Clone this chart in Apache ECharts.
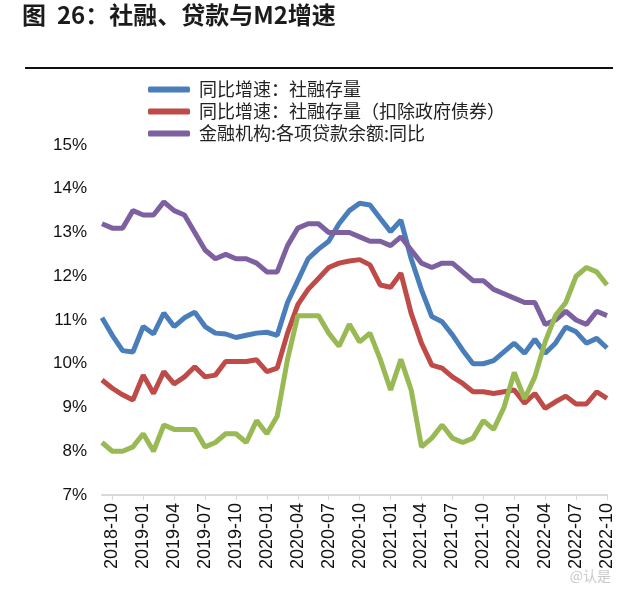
<!DOCTYPE html>
<html>
<head>
<meta charset="utf-8">
<script src="https://cdn.jsdelivr.net/npm/echarts@6/dist/echarts.min.js"></script>
<style>
html,body{margin:0;padding:0;background:#fff;}
#c{width:633px;height:600px;}
</style>
</head>
<body>
<div id="c"></div>
<script>
const categories = [
 '2018-09','2018-10','2018-11','2018-12',
 '2019-01','2019-02','2019-03','2019-04','2019-05','2019-06','2019-07','2019-08','2019-09','2019-10','2019-11','2019-12',
 '2020-01','2020-02','2020-03','2020-04','2020-05','2020-06','2020-07','2020-08','2020-09','2020-10','2020-11','2020-12',
 '2021-01','2021-02','2021-03','2021-04','2021-05','2021-06','2021-07','2021-08','2021-09','2021-10','2021-11','2021-12',
 '2022-01','2022-02','2022-03','2022-04','2022-05','2022-06','2022-07','2022-08','2022-09','2022-10'
];
const seriesNames = ['同比增速：社融存量','同比增速：社融存量（扣除政府债券）','金融机构:各项贷款余额:同比','M2:同比'];
const tsfStock = [11.05,10.65,10.3,10.27,10.85,10.68,11.16,10.85,11.05,11.18,
 10.85,10.7,10.68,10.6,10.65,10.7,10.72,10.65,11.4,11.9,
 12.4,12.62,12.8,13.2,13.5,13.67,13.63,13.32,13.02,13.28,
 12.4,11.69,11.08,10.96,10.66,10.31,10.0,10.0,10.07,10.27,
 10.47,10.24,10.56,10.24,10.47,10.84,10.73,10.47,10.58,10.36];
const tsfExGov = [9.63,9.44,9.29,9.17,9.74,9.32,9.82,9.54,9.7,9.93,
 9.7,9.74,10.05,10.05,10.05,10.09,9.82,9.9,10.7,11.35,
 11.7,11.95,12.2,12.3,12.35,12.38,12.26,11.8,11.75,12.07,
 11.15,10.47,9.97,9.9,9.7,9.55,9.36,9.36,9.32,9.36,
 9.4,9.1,9.32,8.98,9.13,9.26,9.08,9.08,9.36,9.21];
const loans = [13.2,13.1,13.1,13.5,13.4,13.4,13.7,13.5,13.4,13.0,
 12.6,12.4,12.5,12.4,12.4,12.3,12.1,12.1,12.7,13.1,
 13.2,13.2,13.0,13.0,13.0,12.9,12.8,12.8,12.7,12.9,
 12.6,12.3,12.2,12.3,12.3,12.1,11.9,11.9,11.7,11.6,
 11.5,11.4,11.4,10.9,11.0,11.2,11.0,10.9,11.2,11.1];
const m2 = [8.2,8.0,8.0,8.1,8.4,8.0,8.6,8.5,8.5,8.5,
 8.1,8.2,8.4,8.4,8.2,8.7,8.4,8.8,10.1,11.1,
 11.1,11.1,10.7,10.4,10.9,10.5,10.7,10.1,9.4,10.1,
 9.4,8.1,8.3,8.6,8.3,8.2,8.3,8.7,8.5,9.0,
 9.8,9.2,9.7,10.5,11.1,11.4,12.0,12.2,12.1,11.8];
const yTicks = [7,8,9,10,11,12,13,14,15];
const colors = ['#4a7ebb','#be4b48','#7d60a0','#98b954'];

const FONT = "'Liberation Sans','Noto Sans CJK SC',sans-serif";
const chart = echarts.init(document.getElementById('c'), null, {renderer:'canvas'});
const showLab = (idx) => (idx - 1) % 3 === 0;
const dataArr = [tsfStock, tsfExGov, loans, m2];
chart.setOption({
  animation:false,
  backgroundColor:'#fff',
  textStyle:{fontFamily:FONT},
  graphic:[
    {type:'text', left:22, top:3, style:{text:'图  26：社融、贷款与M2增速', font:"bold 24px 'Noto Sans CJK SC','Liberation Sans',sans-serif", fill:'#1b1b1b'}},
    {type:'line', shape:{x1:25,y1:68,x2:613,y2:68}, style:{stroke:'#111', lineWidth:2}},
    {type:'text', right:22, top:569, style:{text:'@认是', font:"14px 'Noto Sans CJK SC',sans-serif", fill:'#c9c9c9'}}
  ],
  legend:{
    data:seriesNames.slice(0,3),
    orient:'vertical',
    left:143, top:75,
    itemWidth:42, itemHeight:6, itemGap:3,
    icon:'roundRect',
    textStyle:{fontSize:18, color:'#222', fontFamily:"'Noto Sans CJK SC',sans-serif", lineHeight:19, padding:[0,0,0,4]}
  },
  grid:{left:102, right:26, top:145, bottom:105, containLabel:false},
  xAxis:{
    type:'category', data:categories, boundaryGap:false,
    axisLine:{lineStyle:{color:'#d9d9d9', width:2}},
    axisTick:{show:true, interval:showLab, length:5, lineStyle:{color:'#d9d9d9'}},
    axisLabel:{rotate:90, interval:showLab, fontSize:18, color:'#111', margin:8, fontFamily:FONT}
  },
  yAxis:{
    type:'value', min:yTicks[0], max:yTicks[yTicks.length-1], interval:1,
    axisLine:{show:false}, axisTick:{show:false}, splitLine:{show:false},
    axisLabel:{formatter:'{value}%', fontSize:17, color:'#111', margin:15, fontFamily:FONT}
  },
  series: seriesNames.map((n,i)=>({
    name:n, type:'line', data:dataArr[i], symbol:'none', smooth:false,
    lineStyle:{width:5, color:colors[i]}, itemStyle:{color:colors[i]}
  }))
});
</script>
</body>
</html>
